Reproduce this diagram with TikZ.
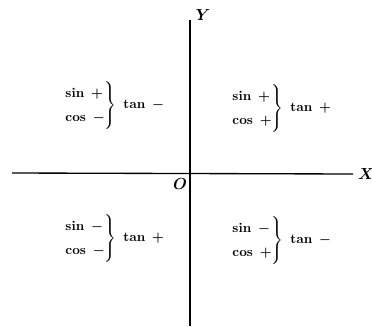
\documentclass[tikz,border=0pt]{standalone}
\usepackage{amsmath}
\usepackage{tikz}

\newcommand{\signs}[3]{$\renewcommand{\arraystretch}{1.5}\boldmath\left.\begin{array}{@{}l@{}}\sin\; #1\\ \cos\; #2\end{array}\right\}\;\tan\; #3$}

\begin{document}
\begin{tikzpicture}[
        x=0.75pt, y=-0.75pt,
        axis/.style={line width=1pt},
        lbl/.style={font=\large},
        quad/.style={inner sep=0pt, font=\bfseries}
    ]
        \useasboundingbox (0,0) rectangle (372,326);

        % axes
        \node[lbl] (X) at (366,174) {$\boldsymbol{X}$};
        \node[lbl] (Y) at (203,15) {$\boldsymbol{Y}$};
        \node[lbl] (O) at (180,184) {$\boldsymbol{O}$};
        \coordinate (xl) at (12,173);
        \coordinate (yt) at (190,20);
        \coordinate (yb) at (190,326);
        \draw[axis] (xl) -- (X.west);
        \draw[axis] (yb) -- (yt);

        % quadrants
        \node[quad] (q2) at (114,105) {\signs{+}{-}{-}};
        \node[quad] (q1) at (281,108) {\signs{+}{+}{+}};
        \node[quad] (q3) at (114,238) {\signs{-}{-}{+}};
        \node[quad] (q4) at (281,240) {\signs{-}{+}{-}};
\end{tikzpicture}
\end{document}
